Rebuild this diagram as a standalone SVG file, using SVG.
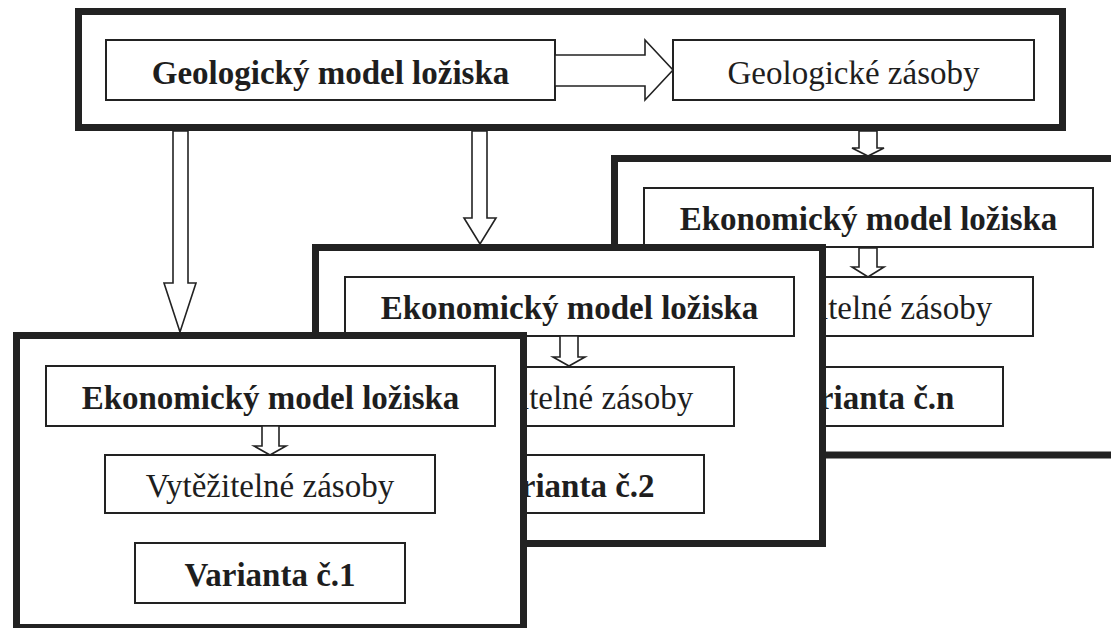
<svg xmlns="http://www.w3.org/2000/svg" width="1111" height="628" viewBox="0 0 1111 628">
  <style>
    .frame { fill: #fff; stroke: #222; stroke-width: 7; }
    .box { fill: #fff; stroke: #222; stroke-width: 2; }
    .arrow { fill: #fff; stroke: #222; stroke-width: 1.6; stroke-linejoin: miter; }
    .t { font-family: "Liberation Serif", "Times New Roman", serif; font-size: 33px; fill: #1e1e1e; text-anchor: middle; }
    .b { font-weight: bold; }
  </style>
  <rect width="1111" height="628" fill="#fff"/>

  <!-- Variant n (back) -->
  <g id="variant-n">
    <rect class="frame" x="614.5" y="158.5" width="520" height="296.5"/>
    <rect class="box" x="644" y="188" width="449" height="59"/>
    <text class="t b" x="868.5" y="230">Ekonomický model ložiska</text>
    <rect class="box" x="703" y="277" width="330" height="59"/>
    <text class="t" x="868" y="319">Vytěžitelné zásoby</text>
    <rect class="box" x="733" y="367" width="270" height="59"/>
    <text class="t b" x="868" y="409">Varianta č.n</text>
  </g>

  <!-- Variant 2 (middle) -->
  <g id="variant-2">
    <rect class="frame" x="315.5" y="247.5" width="507" height="296"/>
    <rect class="box" x="345" y="277" width="449" height="59"/>
    <text class="t b" x="569.5" y="319">Ekonomický model ložiska</text>
    <rect class="box" x="404" y="367" width="330" height="59"/>
    <text class="t" x="569" y="409">Vytěžitelné zásoby</text>
    <rect class="box" x="434" y="455" width="270" height="58"/>
    <text class="t b" x="569" y="497">Varianta č.2</text>
  </g>

  <!-- Variant 1 (front) -->
  <g id="variant-1">
    <rect class="frame" x="16.5" y="335.5" width="507" height="292"/>
    <rect class="box" x="46" y="366" width="449" height="60"/>
    <text class="t b" x="270.5" y="409">Ekonomický model ložiska</text>
    <rect class="box" x="105" y="455" width="330" height="58"/>
    <text class="t" x="270" y="497">Vytěžitelné zásoby</text>
    <rect class="box" x="135" y="543" width="270" height="60"/>
    <text class="t b" x="270" y="586">Varianta č.1</text>
  </g>

  <!-- Geological model (top) -->
  <g id="geology">
    <rect class="frame" x="78.5" y="11.5" width="984" height="116"/>
    <rect class="box" x="106" y="40" width="449" height="60"/>
    <text class="t b" x="330.5" y="84">Geologický model ložiska</text>
    <rect class="box" x="673" y="40" width="361" height="60"/>
    <text class="t" x="853.5" y="84">Geologické zásoby</text>
  </g>

  <!-- Block arrows -->
  <g id="connectors">
    <polygon class="arrow" points="555,55 645,55 645,40 673,70 645,100 645,86 555,86"/>
    <polygon class="arrow" points="173,131 188,131 188,283 196,283 180,332 164,283 173,283"/>
    <polygon class="arrow" points="472,131 487,131 487,218 496,218 480,244 464,218 472,218"/>
    <polygon class="arrow" points="859,131 877,131 877,148 884,148 868,156 852,148 859,148"/>
    <polygon class="arrow" points="859,248 877,248 877,267 884,267 868,277 852,267 859,267"/>
    <polygon class="arrow" points="560,336 578,336 578,357 585,357 569,366 553,357 560,357"/>
    <polygon class="arrow" points="262,426 279,426 279,446 286,446 270,455 254,446 262,446"/>
  </g>
</svg>
